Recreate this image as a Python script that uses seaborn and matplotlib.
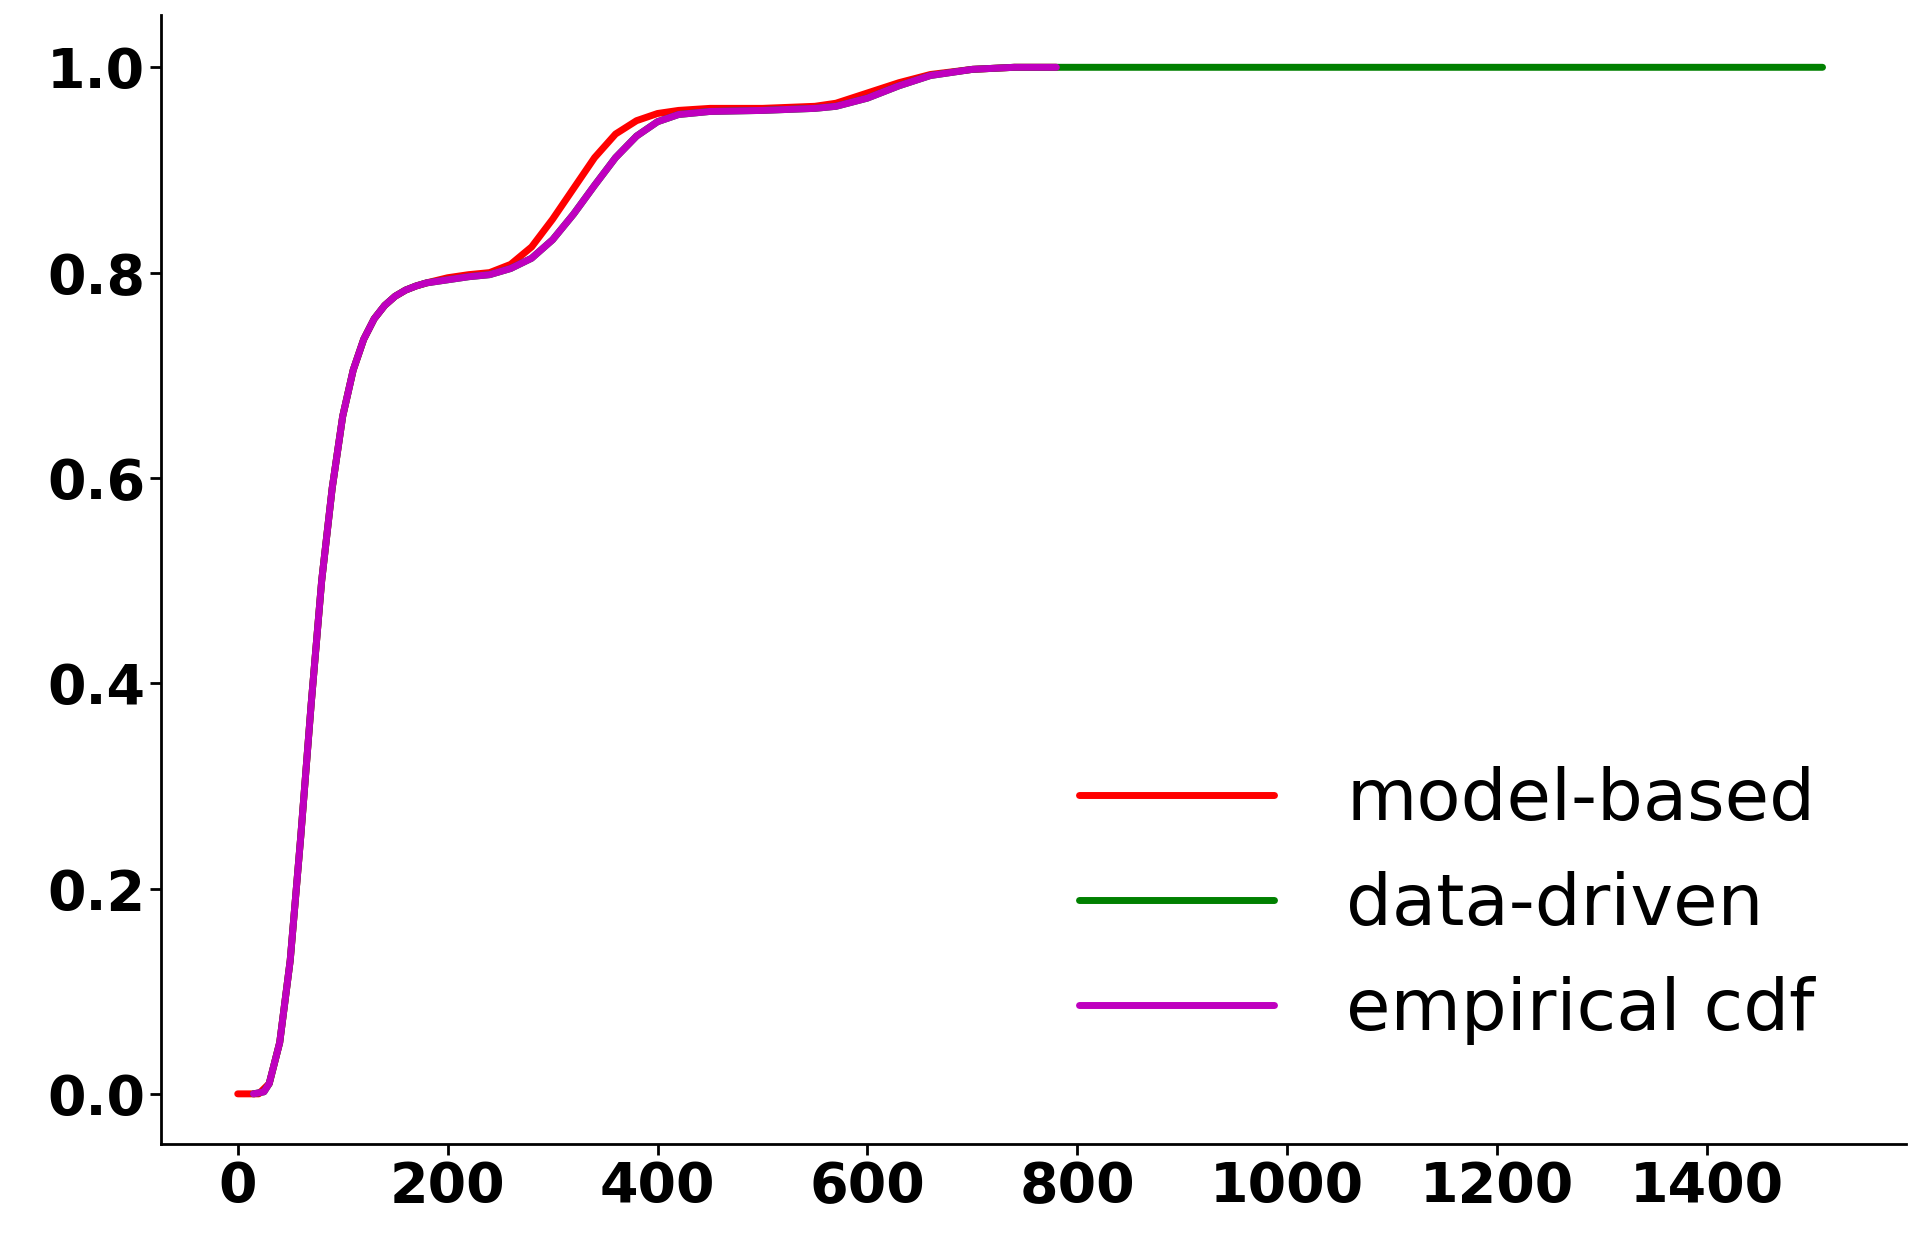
import pandas as pd
import matplotlib
matplotlib.use('Agg')
import matplotlib.pyplot as plt
import seaborn as sns

# CDF curves
model_x = [0, 20, 30, 40, 50, 60, 70, 80, 90, 100, 110, 120, 130, 140, 150, 160, 170, 180, 200, 220, 240, 260, 280,
           300, 320, 340, 360, 380, 400, 420, 450, 500, 550, 570, 600, 630, 660, 700, 740, 780]
model_y = [0, 0, 0.01, 0.05, 0.13, 0.25, 0.38, 0.5, 0.59, 0.66, 0.705, 0.735, 0.755, 0.768, 0.777, 0.783, 0.787, 0.79, 0.795,
           0.798, 0.80, 0.808, 0.825, 0.852, 0.882, 0.912, 0.935, 0.948, 0.955, 0.958, 0.96, 0.96, 0.962,
           0.965, 0.975, 0.985, 0.993, 0.998, 1.0, 1.0]

emp_x = [15, 25, 30, 40, 50, 60, 70, 80, 90, 100, 110, 120, 130, 140, 150, 160, 170, 180, 200, 220, 240, 260, 280,
         300, 320, 340, 360, 380, 400, 420, 450, 500, 550, 570, 600, 630, 660, 700, 740, 780]
emp_y = [0, 0.002, 0.01, 0.05, 0.13, 0.25, 0.38, 0.5, 0.59, 0.66, 0.705, 0.735, 0.755, 0.768, 0.777, 0.783, 0.787, 0.79, 0.793,
         0.796, 0.798, 0.804, 0.814, 0.832, 0.857, 0.885, 0.912, 0.933, 0.947, 0.954, 0.957, 0.958,
         0.96, 0.962, 0.97, 0.982, 0.992, 0.998, 1.0, 1.0]

data_x = emp_x + [900, 1100, 1300, 1510]
data_y = emp_y + [1.0, 1.0, 1.0, 1.0]

sns.set_style('ticks')
fig, ax = plt.subplots(figsize=(19.18, 12.45), dpi=100)

lw = 5
sns.lineplot(x=model_x, y=model_y, color='red', lw=lw, label='model-based', ax=ax, sort=False)
sns.lineplot(x=data_x, y=data_y, color='green', lw=lw, label='data-driven', ax=ax, sort=False)
sns.lineplot(x=emp_x, y=emp_y, color='m', lw=lw, label='empirical cdf', ax=ax, sort=False)

ax.set_xlim(-73, 1590)
ax.set_ylim(-0.049, 1.051)
ax.set_xticks(range(0, 1401, 200))
ax.set_yticks([0, 0.2, 0.4, 0.6, 0.8, 1.0])
ax.set_yticklabels(['0.0', '0.2', '0.4', '0.6', '0.8', '1.0'])
ax.tick_params(labelsize=40, width=2, length=8, colors='black')
for lab in ax.get_xticklabels() + ax.get_yticklabels():
    lab.set_fontweight('bold')
for s in ['left', 'bottom']:
    ax.spines[s].set_linewidth(2)
    ax.spines[s].set_color('black')
sns.despine(ax=ax)

leg = ax.legend(loc='lower right', fontsize=52, frameon=False, handlelength=2.7,
                labelspacing=0.5, handletextpad=1.0, bbox_to_anchor=(0.985, 0.03))
for t in leg.get_texts():
    t.set_color('black')

fig.subplots_adjust(left=0.084, right=0.994, top=0.988, bottom=0.081)
fig.savefig('out.png')
